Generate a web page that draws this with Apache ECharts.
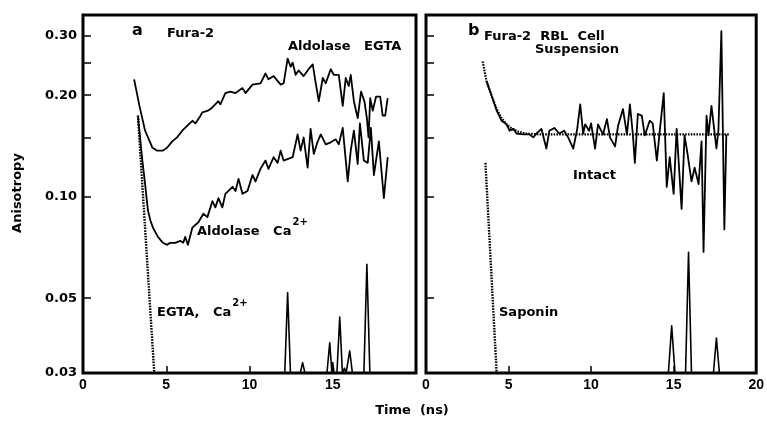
<!DOCTYPE html>
<html><head><meta charset="utf-8">
<script src="https://cdn.jsdelivr.net/npm/echarts@6/dist/echarts.min.js"></script>
<style>html,body{margin:0;padding:0;background:#fff}#c{width:767px;height:423px}</style>
</head><body><div id="c"></div>
<script>
// ---------- data ----------
const xTickStep = 5;
const yTickValues = [0.03, 0.05, 0.10, 0.15, 0.20, 0.25, 0.30];
const yLabelValues = [0.03, 0.05, 0.10, 0.20, 0.30];

// panel a
const aldolaseEGTA = [[3.07,0.223],[3.4,0.185],[3.73,0.157],[4.16,0.140],[4.46,0.137],[4.8,0.137],[5.06,0.140],[5.36,0.146],[5.65,0.150],[5.96,0.157],[6.3,0.163],[6.57,0.168],[6.75,0.165],[7.0,0.172],[7.17,0.178],[7.5,0.180],[7.77,0.184],[8.13,0.192],[8.25,0.188],[8.55,0.203],[8.85,0.205],[9.16,0.203],[9.58,0.210],[9.76,0.203],[10.18,0.215],[10.66,0.217],[10.96,0.232],[11.14,0.223],[11.45,0.228],[11.87,0.215],[12.05,0.217],[12.29,0.257],[12.47,0.243],[12.59,0.250],[12.77,0.230],[12.95,0.237],[13.25,0.228],[13.55,0.239],[13.8,0.247],[13.98,0.217],[14.16,0.192],[14.4,0.225],[14.58,0.217],[14.88,0.239],[15.06,0.230],[15.36,0.230],[15.6,0.186],[15.78,0.225],[15.96,0.213],[16.08,0.230],[16.27,0.192],[16.5,0.171],[16.7,0.205],[16.9,0.192],[17.05,0.171],[17.15,0.150],[17.25,0.196],[17.4,0.180],[17.6,0.198],[17.85,0.198],[18.0,0.174],[18.15,0.174],[18.3,0.196]];
const aldolaseCa = [[3.3,0.174],[3.55,0.130],[3.73,0.109],[3.9,0.091],[4.05,0.085],[4.2,0.081],[4.5,0.076],[4.8,0.073],[5.06,0.072],[5.24,0.073],[5.54,0.073],[5.84,0.074],[6.02,0.073],[6.14,0.076],[6.3,0.072],[6.57,0.081],[6.93,0.084],[7.23,0.089],[7.47,0.087],[7.77,0.097],[7.95,0.093],[8.13,0.099],[8.37,0.093],[8.55,0.102],[8.98,0.107],[9.16,0.104],[9.34,0.113],[9.58,0.102],[9.88,0.104],[10.18,0.116],[10.36,0.111],[10.66,0.121],[10.96,0.128],[11.14,0.121],[11.45,0.131],[11.69,0.126],[11.87,0.137],[12.05,0.128],[12.59,0.131],[12.89,0.153],[13.07,0.137],[13.25,0.150],[13.49,0.122],[13.67,0.159],[13.86,0.134],[14.1,0.146],[14.28,0.153],[14.58,0.143],[14.88,0.145],[15.18,0.148],[15.36,0.143],[15.6,0.160],[15.9,0.111],[16.08,0.137],[16.27,0.157],[16.5,0.125],[16.63,0.165],[16.87,0.128],[17.1,0.126],[17.29,0.160],[17.47,0.116],[17.77,0.146],[18.07,0.099],[18.3,0.131]];
const freeDyeDecayA = [[3.3,0.174],[4.28,0.030]];
const freeDyeTailA = [[4.28,0.030],[12.12,0.030],[12.29,0.052],[12.46,0.030],[13.05,0.030],[13.19,0.0322],[13.33,0.030],[14.65,0.030],[14.82,0.0369],[14.95,0.030],[15.0,0.0322],[15.08,0.030],[15.25,0.030],[15.42,0.044],[15.58,0.030],[15.7,0.031],[15.8,0.030],[15.86,0.030],[16.02,0.0349],[16.18,0.030],[16.87,0.030],[17.05,0.063],[17.23,0.030],[18.3,0.030]];

// panel b
const intactFit = [[3.43,0.252],[3.67,0.220],[3.98,0.199],[4.28,0.182],[4.58,0.171],[4.88,0.164],[5.2,0.159],[5.6,0.156],[6.0,0.154],[7.0,0.153],[18.35,0.153]];
const intactData = [[3.67,0.220],[3.98,0.199],[4.28,0.180],[4.58,0.168],[4.7,0.170],[4.88,0.164],[5.06,0.157],[5.3,0.159],[5.48,0.154],[5.9,0.153],[6.27,0.153],[6.5,0.150],[6.69,0.154],[6.99,0.159],[7.29,0.139],[7.47,0.157],[7.77,0.160],[8.07,0.154],[8.37,0.157],[8.61,0.150],[8.92,0.139],[9.16,0.159],[9.34,0.188],[9.52,0.154],[9.64,0.164],[9.88,0.157],[10.0,0.165],[10.24,0.139],[10.42,0.164],[10.72,0.153],[10.96,0.170],[11.14,0.150],[11.45,0.141],[11.63,0.162],[11.93,0.182],[12.17,0.153],[12.35,0.188],[12.53,0.153],[12.65,0.126],[12.83,0.176],[13.07,0.174],[13.25,0.152],[13.55,0.168],[13.73,0.165],[13.98,0.128],[14.16,0.157],[14.4,0.203],[14.58,0.107],[14.76,0.131],[15.0,0.102],[15.18,0.159],[15.48,0.092],[15.66,0.152],[15.84,0.134],[16.08,0.111],[16.27,0.122],[16.51,0.109],[16.69,0.146],[16.81,0.0686],[16.99,0.174],[17.11,0.152],[17.29,0.186],[17.41,0.184],[17.59,0.139],[17.71,0.157],[17.89,0.310],[18.07,0.080],[18.19,0.153]];
const saponinDecay = [[3.6,0.126],[4.28,0.030]];
const saponinTail = [[4.28,0.030],[14.68,0.030],[14.88,0.0414],[15.08,0.030],[15.72,0.030],[15.9,0.0684],[16.08,0.030],[17.41,0.030],[17.59,0.0381],[17.77,0.030],[18.3,0.030]];

// ---------- chart ----------
const BLACK = '#000';
const labelFont = '"DejaVu Sans", sans-serif';
function xAxis(gi, showLast) {
  return {
    type: 'value', gridIndex: gi, min: 0, max: 20, interval: xTickStep,
    axisLine: { show: false },
    axisTick: { show: true, inside: true, length: 7, lineStyle: { color: BLACK, width: 1.5 } },
    axisLabel: { color: BLACK, fontFamily: '"Liberation Sans", Arial, sans-serif', fontWeight: 'bold', fontSize: 14, margin: 5,
      formatter: v => (!showLast && v === 20) ? '' : String(v) },
    splitLine: { show: false }
  };
}
function yAxis(gi, showLabels) {
  return {
    type: 'log', logBase: 10, gridIndex: gi, min: 0.03, max: 0.346,
    axisLine: { show: false },
    axisTick: { show: true, inside: true, length: 8, lineStyle: { color: BLACK, width: 1.5 }, customValues: yTickValues },
    axisLabel: { show: showLabels, customValues: yLabelValues, formatter: v => Number(v).toFixed(2),
      color: BLACK, fontFamily: labelFont, fontWeight: 'bold', fontSize: 13, margin: 6 },
    splitLine: { show: false }, minorTick: { show: false }
  };
}
function line(data, gi, dotted, width) {
  return { type: 'line', xAxisIndex: gi, yAxisIndex: gi, data: data, showSymbol: false, symbol: 'none',
    lineStyle: { color: BLACK, width: width || 1.8, type: dotted ? [1.6, 1.2] : 'solid', join: 'round' }, z: 3, silent: true };
}

const measure = (() => { const c = document.createElement('canvas').getContext('2d');
  return (t, f) => { c.font = f; return c.measureText(t).width; }; })();
const F13 = 'bold 13px "DejaVu Sans"';
const F16 = 'bold 16px "DejaVu Sans"';
const F10 = 'bold 10px "DejaVu Sans"';
function txt(text, x, y, font, align, rot) {
  return { type: 'text', x: x, y: y, rotation: rot || 0, z: 10,
    style: { text: text, font: font || F13, fill: BLACK, align: align || 'left', verticalAlign: 'middle' } };
}
const caA = 'Aldolase   Ca', caB = 'EGTA,   Ca';

const chart = echarts.init(document.getElementById('c'), null, { renderer: 'canvas' });
chart.setOption({
  animation: false,
  backgroundColor: '#fff',
  grid: [
    { left: 83, top: 15, width: 333, height: 358, show: true, borderColor: BLACK, borderWidth: 3, backgroundColor: 'transparent' },
    { left: 426, top: 15, width: 333, height: 358, show: true, borderColor: BLACK, borderWidth: 3, backgroundColor: 'transparent' }
  ],
  xAxis: [xAxis(0, false), xAxis(1, true)],
  yAxis: [yAxis(0, true), yAxis(1, false)],
  series: [
    line(aldolaseEGTA, 0), line(aldolaseCa, 0), line(freeDyeDecayA, 0, true, 2.4), line(freeDyeTailA, 0, false, 1.6),
    line(intactFit, 1, true, 2.2), line(intactData, 1), line(saponinDecay, 1, true, 2.4), line(saponinTail, 1, false, 1.6)
  ],
  graphic: [
    txt('a', 132, 31, F16), txt('Fura-2', 167, 34),
    txt('Aldolase   EGTA', 288, 47),
    txt(caA, 197, 232), txt('2+', 197 + measure(caA, F13) + 1, 222, F10),
    txt(caB, 157, 313), txt('2+', 157 + measure(caB, F13) + 1, 303, F10),
    txt('b', 468, 31, F16), txt('Fura-2  RBL  Cell', 484, 37), txt('Suspension', 577, 50, F13, 'center'),
    txt('Intact', 573, 176), txt('Saponin', 499, 313),
    txt('Anisotropy', 18, 193, F13, 'center', Math.PI / 2),
    txt('Time  (ns)', 412, 411, F13, 'center')
  ]
});
</script></body></html>
